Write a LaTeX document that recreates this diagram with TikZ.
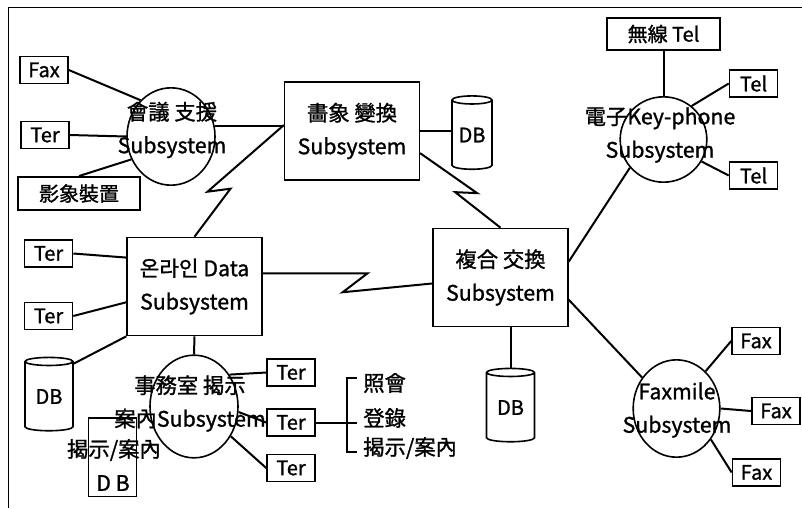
\documentclass[tikz,border=0pt]{standalone}
\usepackage{fontspec}
\setmainfont{Noto Sans CJK KR}[AutoFakeBold=1.2]
\usetikzlibrary{shapes.geometric}

\tikzset{
  subbox/.style={draw, line width=1.2pt, minimum width=101pt, minimum height=73.5pt, inner sep=0pt},
  subcirc/.style={draw, ellipse, line width=1.2pt, inner sep=0pt},
  termbox/.style={draw, line width=1.2pt, minimum width=36pt, minimum height=20pt, inner sep=0pt, font=\fontsize{15}{15}\selectfont\bfseries},
  dbcyl/.style={draw, cylinder, shape border rotate=90, aspect=0.3, line width=1.2pt, minimum width=36pt, minimum height=55pt, inner sep=0pt, font=\fontsize{15}{15}\selectfont\bfseries},
  lbl/.style={inner sep=0pt, align=center, font=\fontsize{16}{25}\selectfont\bfseries},
  link/.style={line width=1.5pt}
}

\begin{document}
\begin{tikzpicture}[x=0.75pt,y=0.75pt,yscale=-1,xscale=1]
\useasboundingbox (0,0) rectangle (802,508);

%Frame
\draw [line width=0.6pt] (8,508) -- (8,7) -- (802,7);

%Shape: Ellipse
\draw (171,136.5) node [subcirc, minimum width=66pt, minimum height=73pt] (meet) {};
\draw (663.5,139.5) node [subcirc, minimum width=65pt, minimum height=64pt] (key) {};
\draw (676.5,408.5) node [subcirc, minimum width=65pt, minimum height=73pt] (faxm) {};
\draw (194,406.5) node [subcirc, minimum width=66pt, minimum height=77pt] (office) {};

%Shape: Rectangle
\draw (352,131) node [subbox, lbl] (conv) {畵象 變換\\Subsystem};
\draw (500.5,277.5) node [subbox, lbl] (combo) {複合 交換\\Subsystem};
\draw (194.5,286.5) node [subbox, lbl] (online) {온라인 Data\\Subsystem};

%Shape: Can
\draw (472,135) node [dbcyl, minimum width=30pt] (db1) {DB};
\draw (510.5,407.5) node [dbcyl] (db2) {DB};
\draw (49,396.5) node [dbcyl] (db3) {DB};
\draw (112.5,457.5) node [dbcyl, minimum height=59pt] (db4) {};

% Text Node
\draw (172,130) node [lbl] (meettxt) {會議 支援\\Subsystem};
\draw (660,135) node [lbl] (keytxt) {電子Key-phone\\Subsystem};
\draw (677,410) node [lbl] (faxmtxt) {Faxmile\\Subsystem};
\draw (190,403.5) node [lbl] (officetxt) {事務室 揭示\\案內Subsystem};
\draw (114,450) node [lbl] (db4txt) {揭示/案內};
\draw (113,483) node [lbl] (db4db) {D B};

%Terminals
\draw (44,70) node [termbox] (faxa) {Fax};
\draw (45,135) node [termbox] (tera) {Ter};
\draw (79,193.5) node [termbox, minimum width=91.5pt, minimum height=25pt] (imgdev) {影象裝置};
\draw (663.5,34) node [termbox, minimum width=85pt, minimum height=24pt] (wtel) {無線 Tel};
\draw (753.5,83.5) node [termbox] (tela) {Tel};
\draw (753.5,175.5) node [termbox] (telb) {Tel};
\draw (756,341) node [termbox] (faxb) {Fax};
\draw (776,411) node [termbox] (faxc) {Fax};
\draw (756.5,472.5) node [termbox] (faxd) {Fax};
\draw (48.5,253.5) node [termbox] (terb) {Ter};
\draw (48.5,316) node [termbox] (terc) {Ter};
\draw (291,372.5) node [termbox] (terd) {Ter};
\draw (291,422.5) node [termbox] (tere) {Ter};
\draw (291,468) node [termbox] (terf) {Ter};

%Straight Lines
\draw [link] (faxa.east) -- (meet.130);
\draw [link] (tera.east) -- (meet.west);
\draw [link] (imgdev.north) -- (meet.210);
\draw [link] (meet.14) -- (meet.14 -| conv.west);
\draw [link] (conv.east) -- (conv.east -| db1.180);
\draw [link] (wtel.south) -- (key.north);
\draw [link] (tela.west) -- (key.50);
\draw [link] (key.-30) -- (telb.west);
\draw [link] (key.220) -- (combo.13);
\draw [link] (combo.-18) -- (faxm.138);
\draw [link] (faxb.west) -- (faxm.52);
\draw [link] (faxc.west) -- (faxm.east);
\draw [link] (faxm.-42) -- (faxd.west);
\draw [link] (combo.south -| db2.90) -- (db2.90);
\draw [link] (terb.east) -- (online.157);
\draw [link] (terc.east) -- (online.193);
\draw [link] (db3.53) -- (online.south west);
\draw [link] (online.south) -- (office.north);
\draw [link] (terd.west) -- (office.42);
\draw [link] (tere.west) -- (office.-7);
\draw [link] (terf.west) -- (office.-39);

%Lightning Lines
\draw [link] (online.north) -- ++(36,-48) -- ++(-23,3) -- (conv.175);
\draw [link] (conv.-18) -- ++(57,40) -- ++(-22,-1) -- (combo.north);
\draw [link] (online.11) -- ++(105,0) -- ++(-25,19) -- (combo.185);

%Bracket
\coordinate (brtop) at (347,378);
\coordinate (brbot) at (347,452);
\draw [link] (brtop) ++(10,0) -- (brtop) -- (brbot) -- ++(10,0);
\draw [link] (tere.east) -- (tere.east -| brtop) -- ++(10,0);
\draw (363,383) node [lbl, anchor=west] (inq) {照會};
\draw (363,418) node [lbl, anchor=west] (reg) {登錄};
\draw (363,448) node [lbl, anchor=west] (notice) {揭示/案內};

\end{tikzpicture}
\end{document}
